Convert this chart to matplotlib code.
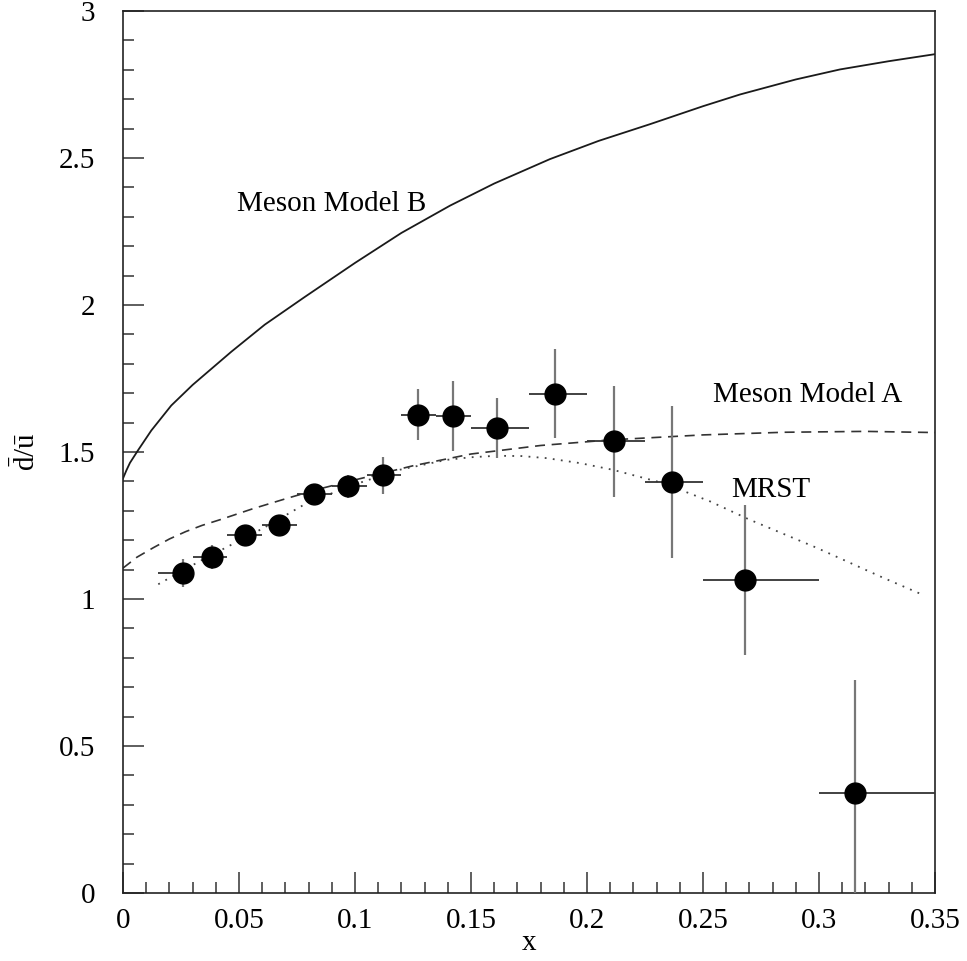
import matplotlib
matplotlib.use("Agg")
import matplotlib.pyplot as plt
from matplotlib.ticker import MultipleLocator

plt.rcParams['font.family'] = ['Liberation Serif', 'DejaVu Serif']
plt.rcParams['mathtext.fontset'] = 'custom'
plt.rcParams['mathtext.rm'] = 'Liberation Serif'
plt.rcParams['mathtext.it'] = 'Liberation Serif'

## Data

# dbar/ubar points: bin centres, bin edges, ratio and stat error
xData  = [0.0257, 0.0385, 0.0526, 0.0674, 0.0823, 0.0971, 0.1119, 0.1272,
          0.1422, 0.1610, 0.1860, 0.2116, 0.2366, 0.2680, 0.3155]
xLow   = [0.015, 0.030, 0.045, 0.060, 0.075, 0.090, 0.105, 0.120,
          0.135, 0.150, 0.175, 0.200, 0.225, 0.250, 0.300]
xHigh  = [0.030, 0.045, 0.060, 0.075, 0.090, 0.105, 0.120, 0.135,
          0.150, 0.175, 0.200, 0.225, 0.250, 0.300, 0.350]
yData  = [1.089, 1.142, 1.216, 1.251, 1.357, 1.383, 1.420, 1.627,
          1.622, 1.582, 1.698, 1.536, 1.398, 1.064, 0.339]
yErr   = [0.047, 0.040, 0.035, 0.035, 0.035, 0.040, 0.062, 0.086,
          0.120, 0.102, 0.152, 0.190, 0.257, 0.255, 0.385]

# Meson Model B (solid)
xModelB = [0.0, 0.0015, 0.003, 0.0065, 0.0122, 0.0208, 0.030, 0.0467, 0.0611,
           0.0783, 0.100, 0.120, 0.141, 0.160, 0.184, 0.205, 0.2272, 0.250,
           0.266, 0.290, 0.309, 0.330, 0.350]
yModelB = [1.41, 1.438, 1.463, 1.506, 1.573, 1.658, 1.728, 1.841, 1.933,
           2.027, 2.143, 2.245, 2.338, 2.413, 2.496, 2.558, 2.615, 2.676,
           2.716, 2.767, 2.801, 2.829, 2.853]

# Meson Model A (dashed)
xModelA = [0.0, 0.006, 0.013, 0.020, 0.027, 0.034, 0.042, 0.056, 0.071, 0.085,
           0.100, 0.125, 0.150, 0.180, 0.210, 0.250, 0.285, 0.320, 0.350]
yModelA = [1.105, 1.142, 1.174, 1.204, 1.229, 1.250, 1.270, 1.307, 1.343, 1.375,
           1.405, 1.453, 1.493, 1.522, 1.541, 1.558, 1.567, 1.570, 1.566]

# MRST (dotted)
xMRST = [0.0152, 0.0332, 0.0605, 0.0792, 0.0993, 0.119, 0.1394, 0.150, 0.161,
         0.172, 0.1826, 0.197, 0.2113, 0.2329, 0.2530, 0.270, 0.299, 0.3277,
         0.3442]
yMRST = [1.050, 1.129, 1.241, 1.326, 1.388, 1.439, 1.473, 1.482, 1.487,
         1.486, 1.479, 1.462, 1.439, 1.394, 1.332, 1.270, 1.174, 1.072,
         1.016]

xTicks = [0, 0.05, 0.1, 0.15, 0.2, 0.25, 0.3, 0.35]
xTickLabels = ['0', '0.05', '0.1', '0.15', '0.2', '0.25', '0.3', '0.35']
yTicks = [0, 0.5, 1, 1.5, 2, 2.5, 3]
yTickLabels = ['0', '0.5', '1', '1.5', '2', '2.5', '3']

## Plot

fig = plt.figure(figsize=(9.67, 9.61), dpi=100)
ax = fig.add_axes([0.1272, 0.0708, 0.8397, 0.9178])

ax.plot(xModelB, yModelB, color='#1a1a1a', lw=1.3)
ax.plot(xModelA, yModelA, color='#333333', lw=1.2, linestyle=(0, (6, 4)))
ax.plot(xMRST, yMRST, color='#444444', lw=1.3, linestyle=(0, (1, 3.5)))

# asymmetric x errors from the bin edges
xErrLeft = [c - lo for c, lo in zip(xData, xLow)]
xErrRight = [hi - c for c, hi in zip(xData, xHigh)]

ax.errorbar(xData, yData, yerr=yErr, fmt='none', ecolor='#777777', elinewidth=1.6,
            capsize=0, zorder=3)
ax.errorbar(xData, yData, xerr=[xErrLeft, xErrRight], fmt='none', ecolor='#333333',
            elinewidth=1.3, capsize=0, zorder=3)
ax.plot(xData, yData, 'o', color='black', markersize=15, zorder=4)

ax.text(0.090, 2.342, 'Meson Model B', fontsize=21, ha='center', va='center')
ax.text(0.2953, 1.695, 'Meson Model A', fontsize=21, ha='center', va='center')
ax.text(0.2793, 1.370, 'MRST', fontsize=21, ha='center', va='center')

ax.set_xlim(0, 0.35)
ax.set_ylim(0, 3)
ax.set_xticks(xTicks)
ax.set_xticklabels(xTickLabels)
ax.set_yticks(yTicks)
ax.set_yticklabels(yTickLabels)
ax.xaxis.set_minor_locator(MultipleLocator(0.01))
ax.yaxis.set_minor_locator(MultipleLocator(0.1))

ax.tick_params(which='both', direction='in', top=False, right=False,
               color='#333333', width=1.1, labelsize=21)
ax.tick_params(which='major', length=15)
ax.tick_params(which='minor', length=8)
ax.tick_params(axis='x', which='major', pad=11)
ax.tick_params(axis='y', which='major', pad=20)

for spine in ax.spines.values():
    spine.set_linewidth(1.2)
    spine.set_color('#222222')

ax.set_xlabel('x', fontsize=21, labelpad=-3)
ax.set_ylabel(r'$\bar{\mathrm{d}}/\bar{\mathrm{u}}$', fontsize=21, labelpad=13)

fig.savefig('out.png', dpi=100)
